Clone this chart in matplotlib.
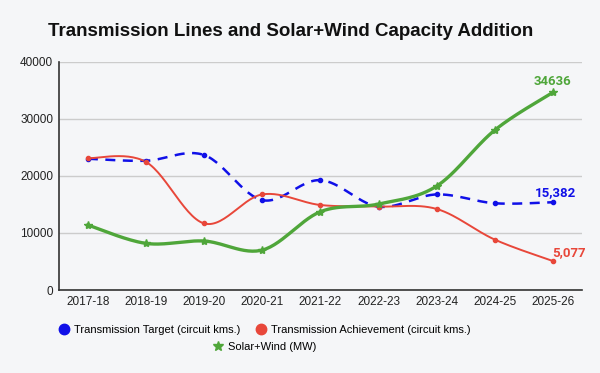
import numpy as np
import matplotlib.pyplot as plt
from matplotlib.lines import Line2D

plt.rcParams['font.family'] = ['Liberation Sans', 'DejaVu Sans']

# DATA
years = ["2017-18", "2018-19", "2019-20", "2020-21", "2021-22",
         "2022-23", "2023-24", "2024-25", "2025-26"]
target = [23000, 22650, 23650, 15750, 19250, 14600, 16750, 15200, 15382]
achievement = [23100, 22437, 11664, 16750, 14895, 14625, 14203, 8830, 5077]
solar_wind = [11380, 8170, 8580, 7000, 13720, 15060, 18210, 28020, 34636]

BLUE = "#1010e8"
RED = "#e8473a"
GREEN = "#4fa63a"
BG = "#f5f6f8"


def smooth(xs, ys, n=30, tension=0.5):
    # Catmull-Rom style curve through the points (display only)
    xs = np.asarray(xs, float)
    ys = np.asarray(ys, float)
    px = np.concatenate([[xs[0]], xs, [xs[-1]]])
    py = np.concatenate([[ys[0]], ys, [ys[-1]]])
    out_x, out_y = [], []
    t = np.linspace(0, 1, n)
    for i in range(1, len(px) - 2):
        p0x, p1x, p2x, p3x = px[i - 1], px[i], px[i + 1], px[i + 2]
        p0y, p1y, p2y, p3y = py[i - 1], py[i], py[i + 1], py[i + 2]
        m1x, m2x = tension * (p2x - p0x), tension * (p3x - p1x)
        m1y, m2y = tension * (p2y - p0y), tension * (p3y - p1y)
        h00 = 2 * t**3 - 3 * t**2 + 1
        h10 = t**3 - 2 * t**2 + t
        h01 = -2 * t**3 + 3 * t**2
        h11 = t**3 - t**2
        out_x.extend(h00 * p1x + h10 * m1x + h01 * p2x + h11 * m2x)
        out_y.extend(h00 * p1y + h10 * m1y + h01 * p2y + h11 * m2y)
    return np.array(out_x), np.array(out_y)


x = np.arange(len(years))

fig = plt.figure(figsize=(6, 3.73), dpi=100, facecolor=BG)
ax = fig.add_axes([0.098, 0.2225, 0.872, 0.612], facecolor=BG)

sx, sy = smooth(x, target)
ax.plot(sx, sy, color=BLUE, lw=1.8, ls=(0, (4, 3)), zorder=3)
ax.plot(x, target, "o", color=BLUE, ms=3, zorder=4)

sx, sy = smooth(x, achievement)
ax.plot(sx, sy, color=RED, lw=1.4, zorder=3)
ax.plot(x, achievement, "o", color=RED, ms=3, zorder=4)

sx, sy = smooth(x, solar_wind)
ax.plot(sx, sy, color=GREEN, lw=2.4, zorder=3)
ax.plot(x, solar_wind, "*", color=GREEN, ms=6, zorder=4)

ax.text(x[-1], solar_wind[-1] + 800, "34636", color=GREEN, fontsize=9.5,
        fontweight="bold", ha="center", va="bottom", family=["Roboto", "DejaVu Sans"])
ax.text(x[-1] + 0.05, target[-1] + 500, "15,382", color=BLUE, fontsize=9.5,
        fontweight="bold", ha="center", va="bottom", family=["Roboto", "DejaVu Sans"])
ax.text(x[-1] + 0.28, achievement[-1] + 400, "5,077", color=RED, fontsize=9.5,
        fontweight="bold", ha="center", va="bottom", family=["Roboto", "DejaVu Sans"])

ax.set_xlim(-0.5, len(years) - 0.5)
ax.set_ylim(0, 40000)
ax.set_yticks([0, 10000, 20000, 30000, 40000])
ax.set_xticks(x)
ax.set_xticklabels(years)
ax.tick_params(axis="both", length=0, labelsize=8.5, colors="#222222", pad=4)
ax.grid(axis="y", color="#cccccc", lw=1)
ax.set_axisbelow(True)
for s in ["top", "right"]:
    ax.spines[s].set_visible(False)
ax.spines["left"].set_color("#333333")
ax.spines["bottom"].set_color("#333333")
ax.spines["left"].set_linewidth(1.2)
ax.spines["bottom"].set_linewidth(1.2)

fig.text(0.485, 0.915, "Transmission Lines and Solar+Wind Capacity Addition",
         ha="center", va="center", fontsize=13.5, fontweight="bold", color="#111111")

h1 = Line2D([], [], ls="none", marker="o", color=BLUE, ms=7.5)
h2 = Line2D([], [], ls="none", marker="o", color=RED, ms=7.5)
h3 = Line2D([], [], ls="none", marker="*", color=GREEN, ms=7.5)
fig.legend([h1, h2], ["Transmission Target (circuit kms.)",
                      "Transmission Achievement (circuit kms.)"],
           loc="center", bbox_to_anchor=(0.44, 0.115), ncol=2, frameon=False,
           fontsize=8, handletextpad=0.3, columnspacing=1.2, handlelength=1.2,
           borderpad=0, borderaxespad=0)
fig.legend([h3], ["Solar+Wind (MW)"], loc="center",
           bbox_to_anchor=(0.44, 0.07), frameon=False, fontsize=8,
           handletextpad=0.3, handlelength=1.2, borderpad=0, borderaxespad=0)

fig.savefig("out.png", dpi=100, facecolor=BG)
